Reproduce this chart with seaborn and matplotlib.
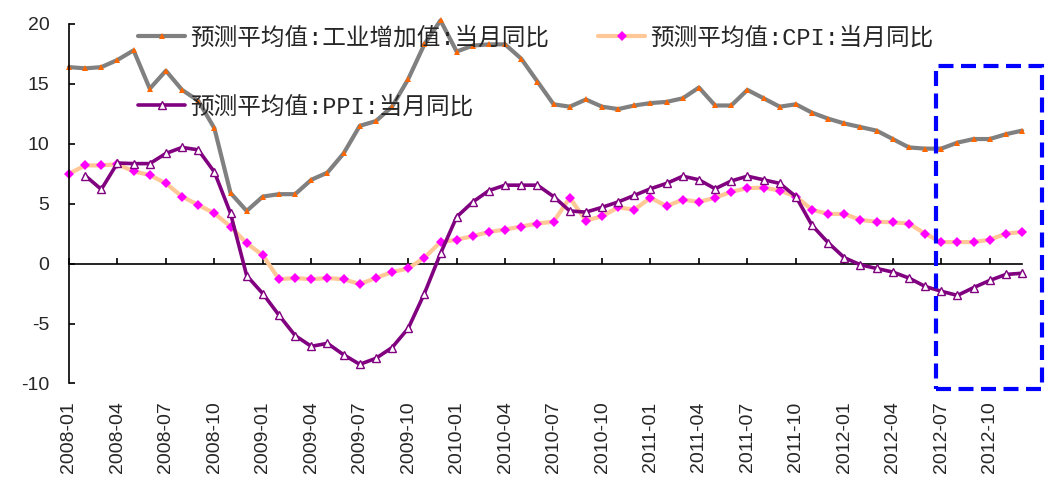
import numpy as np
import pandas as pd
import matplotlib
matplotlib.use("Agg")
import matplotlib.pyplot as plt
from matplotlib.lines import Line2D
from matplotlib.patches import Rectangle
import seaborn as sns

# Monthly categories, 2008-01 .. 2012-12
months = [p.strftime("%Y-%m") for p in pd.period_range("2008-01", "2012-12", freq="M")]

# 预测平均值 (consensus forecasts), 当月同比 %
industrial = [16.4, 16.3, 16.4, 17.0, 17.8, 14.6, 16.1, 14.5, 13.6, 11.3,
              5.9, 4.4, 5.6, 5.8, 5.8, 7.0, 7.6, 9.2, 11.5, 11.9,
              13.1, 15.4, 18.3, 20.3, 17.7, 18.2, 18.3, 18.3, 17.1, 15.2,
              13.3, 13.1, 13.7, 13.1, 12.9, 13.2, 13.4, 13.5, 13.8, 14.7,
              13.2, 13.2, 14.5, 13.8, 13.1, 13.3, 12.6, 12.1, 11.7, 11.4,
              11.1, 10.4, 9.7, 9.6, 9.6, 10.1, 10.4, 10.4, 10.8, 11.1]

cpi = [7.5, 8.2, 8.2, 8.3, 7.7, 7.4, 6.7, 5.6, 4.9, 4.2,
       3.1, 1.7, 0.7, -1.3, -1.2, -1.3, -1.2, -1.3, -1.7, -1.2,
       -0.7, -0.4, 0.5, 1.8, 2.0, 2.3, 2.65, 2.85, 3.1, 3.35,
       3.5, 5.5, 3.6, 3.95, 4.7, 4.5, 5.5, 4.8, 5.35, 5.15,
       5.5, 6.0, 6.3, 6.35, 6.1, 5.6, 4.5, 4.15, 4.15, 3.65,
       3.5, 3.45, 3.35, 2.5, 1.8, 1.8, 1.8, 2.0, 2.5, 2.65]

ppi = [np.nan, 7.35, 6.2, 8.4, 8.35, 8.35, 9.2, 9.7, 9.5, 7.65,
       4.2, -1.0, -2.5, -4.3, -6.0, -6.9, -6.65, -7.6, -8.4, -7.9,
       -7.0, -5.4, -2.5, 0.85, 3.9, 5.15, 6.1, 6.55, 6.55, 6.55,
       5.6, 4.4, 4.3, 4.7, 5.15, 5.7, 6.25, 6.7, 7.3, 7.0,
       6.25, 6.9, 7.3, 7.0, 6.7, 5.6, 3.2, 1.75, 0.5, -0.1,
       -0.4, -0.7, -1.2, -1.9, -2.3, -2.65, -2.0, -1.4, -0.9, -0.8]

series_names = ["预测平均值:工业增加值:当月同比", "预测平均值:CPI:当月同比", "预测平均值:PPI:当月同比"]
highlight_from = "2012-07"

sns.set_theme(style="white")
plt.rcParams["font.family"] = ["Liberation Sans", "DejaVu Sans"]
plt.rcParams["axes.unicode_minus"] = False
legend_family = ["Liberation Mono", "Noto Sans CJK SC", "DejaVu Sans"]

x = np.arange(len(months))
fig = plt.figure(figsize=(10.53, 4.82), dpi=100)
ax = fig.add_axes([69 / 1053, 1 - 383.5 / 482, 953 / 1053, 359.5 / 482])

styles = [
    dict(color="#808080", lw=3.0, marker="^", ms=4.8, mfc="#FF6600", mec="#FF6600", mew=0),
    dict(color="#FFC896", lw=3.0, marker="D", ms=5.0, mfc="#FF00FF", mec="#FF00FF", mew=0),
    dict(color="#800080", lw=2.6, marker="^", ms=5.5, mfc="white", mec="#800080", mew=1.0),
]
for vals, st in zip([industrial, cpi, ppi], styles):
    sns.lineplot(x=x, y=vals, ax=ax, sort=False, clip_on=False, **st)

ax.set_xlim(0, len(months) - 1)
ax.set_ylim(-10, 20)
ax.set_yticks(np.arange(-10, 21, 5))
ax.tick_params(axis="y", direction="in", length=4, width=1.2, color="black",
               labelsize=14, pad=14, left=True)
tick_idx = np.arange(0, len(months), 3)
ax.set_xticks(tick_idx)
ax.set_xticklabels([months[i] for i in tick_idx], rotation=90, fontsize=14)
ax.tick_params(axis="x", length=0, pad=13)
for s in ["top", "right", "bottom"]:
    ax.spines[s].set_visible(False)
ax.spines["left"].set_color("black")
ax.spines["left"].set_linewidth(1.2)

# horizontal axis crossing at zero with upward tick marks
zero_loc = (0 - ax.get_ylim()[0]) / (ax.get_ylim()[1] - ax.get_ylim()[0])
zax = ax.secondary_xaxis(zero_loc)
zax.set_xticks(tick_idx)
zax.tick_params(axis="x", direction="in", length=4, width=1.2, color="black",
                labelbottom=False, labeltop=False, bottom=True, top=False)
zax.spines["bottom"].set_color("black")
zax.spines["bottom"].set_linewidth(1.2)
for s in ["top", "left", "right"]:
    if s in zax.spines:
        zax.spines[s].set_visible(False)

# dashed frame around the latest half-year
h0 = months.index(highlight_from)
rect = Rectangle((h0 - 0.35, -10.5), (len(months) - 1) - h0 + 1.6, 27.0,
                 fill=False, edgecolor="#0000FF", lw=3.0, linestyle=(0, (3.6, 1.8)),
                 clip_on=False, zorder=5)
ax.add_patch(rect)

# legend entries placed individually
handles = [Line2D([], [], **st) for st in styles]
positions = [(138, 38), (598, 38), (138, 107)]
for h, name, (px, py) in zip(handles, series_names, positions):
    fig.legend([h], [name], loc="center left",
               bbox_to_anchor=(px / 1053, 1 - py / 482),
               frameon=False, borderpad=0, borderaxespad=0,
               handlelength=2.0, handletextpad=0.21,
               prop={"family": legend_family, "size": 17})

fig.savefig("out.png", dpi=100)
